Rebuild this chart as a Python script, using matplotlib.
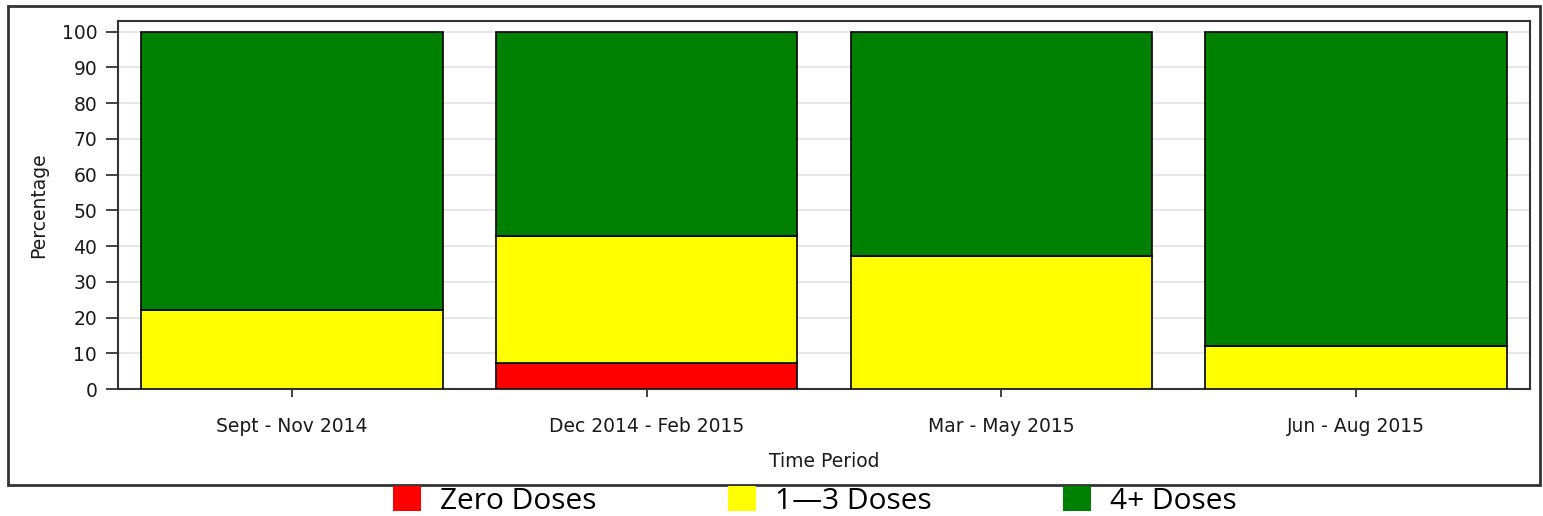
import numpy as np
import matplotlib
matplotlib.use('Agg')
from matplotlib import pylab as plt
import matplotlib.patches as mpatches

# data (percent of children by dose count)
periods = ['Sept - Nov 2014', 'Dec 2014 - Feb 2015', 'Mar - May 2015', 'Jun - Aug 2015']
zero_doses = np.array([0.0, 7.3, 0.0, 0.0])
one_three = np.array([22.1, 35.6, 37.3, 12.0])
four_plus = 100.0 - zero_doses - one_three

labels = ['Zero Doses', '1\u20143 Doses', '4+ Doses']
colors = ['#FF0000', '#FFFF00', '#008000']

plt.rcParams['font.family'] = 'DejaVu Sans'

fig = plt.figure(figsize=(15.43, 5.16), dpi=100)
ax = fig.add_axes([0.0765, 0.2461, 0.9151, 0.7132])

x = np.arange(len(periods))
w = 0.85
ax.bar(x, zero_doses, w, color=colors[0], edgecolor='black', linewidth=1.2, zorder=3)
ax.bar(x, one_three, w, bottom=zero_doses, color=colors[1], edgecolor='black', linewidth=1.2, zorder=3)
ax.bar(x, four_plus, w, bottom=zero_doses + one_three, color=colors[2], edgecolor='black', linewidth=1.2, zorder=3)

ax.set_xlim(-0.49, 3.49)
ax.set_ylim(0, 103)
ax.set_yticks(np.arange(0, 101, 10))
ax.set_xticks(x)
ax.set_xticklabels(periods, fontsize=13.5, color='#1a1a1a')
ax.tick_params(axis='y', labelsize=13.5, labelcolor='#1a1a1a', length=9, width=1.3, pad=6, color='#333333')
ax.tick_params(axis='x', length=6, width=1.3, pad=14, color='#333333')
ax.grid(axis='y', color='#e3e3e3', linewidth=1.2, zorder=0)
for s in ax.spines.values():
    s.set_color('#333333')
    s.set_linewidth(1.5)

ax.set_ylabel('Percentage', fontsize=13.5, color='#1a1a1a', labelpad=10)
ax.set_xlabel('Time Period', fontsize=13.5, color='#1a1a1a', labelpad=12)

# outer frame round the graph
frame = mpatches.Rectangle((8 / 1543, 1 - 485 / 516), 1532 / 1543, 479 / 516,
                           transform=fig.transFigure, fill=False,
                           edgecolor='#333333', linewidth=2)
fig.patches.append(frame)

handles = [mpatches.Patch(facecolor=c, edgecolor='none') for c in colors]
fig.legend(handles, labels, loc='center', bbox_to_anchor=(0.528, 0.029), ncol=3,
           frameon=False, prop={'family': 'Open Sans', 'size': 21.5},
           handlelength=0.95, handleheight=0.92, handletextpad=0.62,
           columnspacing=4.4, borderpad=0, borderaxespad=0)

plt.savefig('out.png', dpi=100)
plt.close()
